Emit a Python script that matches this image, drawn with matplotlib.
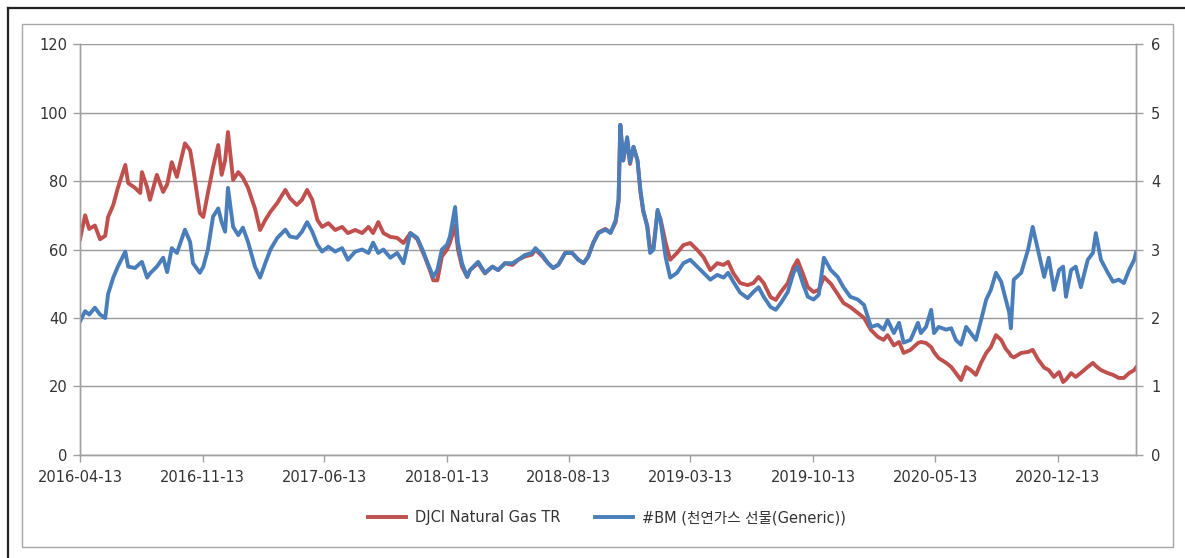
import pandas as pd
import matplotlib
matplotlib.use("Agg")
import matplotlib.pyplot as plt
import matplotlib.dates as mdates
from matplotlib.lines import Line2D
from matplotlib.patches import Rectangle

plt.rcParams["font.family"] = ["DejaVu Sans", "Noto Sans CJK KR"]

# values (roughly two-weekly samples)
dates = [
    "2016-04-13", "2016-04-22", "2016-04-29", "2016-05-09", "2016-05-18", "2016-05-27", "2016-06-01", "2016-06-10", "2016-06-18", "2016-07-01",
    "2016-07-06", "2016-07-18", "2016-07-27", "2016-07-30", "2016-08-08", "2016-08-13", "2016-08-25", "2016-09-05", "2016-09-12", "2016-09-20",
    "2016-09-29", "2016-10-13", "2016-10-22", "2016-10-27", "2016-11-08", "2016-11-14", "2016-11-22", "2016-12-01", "2016-12-10", "2016-12-16",
    "2016-12-22", "2016-12-27", "2017-01-05", "2017-01-14", "2017-01-22", "2017-01-31", "2017-02-12", "2017-02-21", "2017-03-02", "2017-03-11",
    "2017-03-23", "2017-04-06", "2017-04-14", "2017-04-26", "2017-05-05", "2017-05-14", "2017-05-23", "2017-06-01", "2017-06-09", "2017-06-20",
    "2017-07-02", "2017-07-14", "2017-07-24", "2017-08-06", "2017-08-18", "2017-08-29", "2017-09-06", "2017-09-15", "2017-09-24", "2017-10-06",
    "2017-10-18", "2017-10-29", "2017-11-10", "2017-11-22", "2017-12-01", "2017-12-06", "2017-12-15", "2017-12-20", "2017-12-27", "2018-01-04",
    "2018-01-13", "2018-01-18", "2018-01-27", "2018-02-01", "2018-02-08", "2018-02-17", "2018-02-22", "2018-03-08", "2018-03-20", "2018-04-02",
    "2018-04-12", "2018-04-24", "2018-05-07", "2018-05-17", "2018-05-29", "2018-06-10", "2018-06-16", "2018-06-28", "2018-07-08", "2018-07-17",
    "2018-07-26", "2018-08-07", "2018-08-19", "2018-08-30", "2018-09-08", "2018-09-16", "2018-09-25", "2018-10-04", "2018-10-16", "2018-10-25",
    "2018-11-03", "2018-11-08", "2018-11-11", "2018-11-16", "2018-11-23", "2018-11-28", "2018-12-04", "2018-12-11", "2018-12-16", "2018-12-21",
    "2018-12-28", "2019-01-02", "2019-01-08", "2019-01-15", "2019-01-20", "2019-01-29", "2019-02-06", "2019-02-18", "2019-03-01", "2019-03-13",
    "2019-03-25", "2019-04-05", "2019-04-17", "2019-04-29", "2019-05-10", "2019-05-18", "2019-05-27", "2019-06-08", "2019-06-21", "2019-07-01",
    "2019-07-10", "2019-07-19", "2019-07-31", "2019-08-09", "2019-08-18", "2019-08-30", "2019-09-09", "2019-09-16", "2019-09-25", "2019-10-04",
    "2019-10-14", "2019-10-23", "2019-11-01", "2019-11-13", "2019-11-25", "2019-12-05", "2019-12-17", "2019-12-30", "2020-01-10", "2020-01-22",
    "2020-02-03", "2020-02-13", "2020-02-20", "2020-03-02", "2020-03-11", "2020-03-19", "2020-03-31", "2020-04-13", "2020-04-18", "2020-04-27",
    "2020-05-06", "2020-05-11", "2020-05-19", "2020-06-01", "2020-06-10", "2020-06-18", "2020-06-27", "2020-07-06", "2020-07-14", "2020-07-23",
    "2020-08-01", "2020-08-10", "2020-08-18", "2020-08-27", "2020-09-05", "2020-09-13", "2020-09-19", "2020-09-22", "2020-09-27", "2020-10-10",
    "2020-10-22", "2020-10-30", "2020-11-08", "2020-11-19", "2020-11-27", "2020-12-06", "2020-12-15", "2020-12-22", "2020-12-27", "2021-01-05",
    "2021-01-13", "2021-01-22", "2021-02-03", "2021-02-12", "2021-02-17", "2021-02-26", "2021-03-10", "2021-03-19", "2021-03-29", "2021-04-07",
    "2021-04-16", "2021-04-25", "2021-04-28",
]

# DJCI Natural Gas TR (left axis)
djci_gas = [
    63, 70, 66, 67, 63, 64, 69.5, 73, 78, 84.7,
    79.4, 78, 76.5, 82.6, 78.2, 74.5, 81.8, 76.8, 79, 85.5,
    81.2, 91, 89, 84, 70.6, 69.5, 76.5, 84, 90.5, 81.8,
    86, 94.3, 80.3, 82.6, 81, 78, 72, 65.7, 68.6, 71,
    73.6, 77.4, 75, 73, 74.5, 77.4, 74.5, 68.6, 66.6, 67.7,
    65.7, 66.6, 64.8, 65.7, 64.8, 66.6, 64.8, 68, 64.8, 63.7,
    63.4, 61.9, 64.8, 63, 59.5, 57.5, 53.5, 51, 51, 58,
    60, 62, 67, 60, 55, 52, 54, 56, 53, 55,
    54, 56, 55.5, 57, 58, 58.5, 60, 58, 56, 54.6,
    55.5, 59, 59, 57, 56, 58, 62, 65, 66, 65,
    68, 74, 96.4, 86, 92, 85, 90, 86, 77, 71,
    67, 60, 61, 71, 69, 62, 57, 59, 61.3, 61.9,
    59.9, 57.8, 54, 56, 55.5, 56.4, 53.1, 50.2, 49.6, 50.2,
    52, 50.2, 46.1, 45.3, 47.6, 50.2, 54.9, 56.9, 53.1, 49,
    47.6, 48.2, 52, 50, 47, 44.4, 43.2, 41.5, 40, 36.5,
    34.5, 33.6, 35, 32, 33, 29.8, 30.7, 32.7, 33, 32.7,
    31.5, 30, 28.3, 26.9, 25.7, 23.9, 21.9, 25.7, 24.8, 23.4,
    26.9, 29.8, 31.5, 35, 33.6, 31, 29.8, 29, 28.5, 29.8,
    30.1, 30.7, 28, 25.5, 24.8, 22.8, 24.2, 21.3, 22, 23.9,
    22.8, 24, 25.7, 26.9, 26, 24.8, 23.9, 23.4, 22.5, 22.5,
    23.9, 24.8, 25.5,
]

# #BM natural gas generic future (right axis)
ng_future = [
    1.95, 2.10, 2.05, 2.15, 2.05, 2.00, 2.35, 2.59, 2.75, 2.97,
    2.75, 2.73, 2.80, 2.82, 2.59, 2.65, 2.75, 2.88, 2.67, 3.02,
    2.95, 3.29, 3.11, 2.80, 2.66, 2.75, 3.00, 3.48, 3.60, 3.40,
    3.26, 3.90, 3.33, 3.21, 3.32, 3.11, 2.75, 2.59, 2.80, 3.00,
    3.17, 3.29, 3.19, 3.17, 3.26, 3.40, 3.26, 3.07, 2.97, 3.04,
    2.97, 3.02, 2.85, 2.97, 3.00, 2.95, 3.10, 2.95, 3.00, 2.88,
    2.95, 2.80, 3.24, 3.17, 3.00, 2.89, 2.70, 2.60, 2.70, 3.00,
    3.07, 3.19, 3.62, 3.10, 2.80, 2.60, 2.70, 2.82, 2.66, 2.75,
    2.70, 2.80, 2.80, 2.85, 2.92, 2.95, 3.02, 2.92, 2.80, 2.73,
    2.78, 2.95, 2.95, 2.85, 2.80, 2.89, 3.10, 3.24, 3.29, 3.24,
    3.43, 3.73, 4.82, 4.30, 4.64, 4.27, 4.50, 4.30, 3.87, 3.58,
    3.33, 2.95, 3.00, 3.58, 3.43, 2.89, 2.59, 2.66, 2.80, 2.85,
    2.75, 2.66, 2.56, 2.63, 2.59, 2.66, 2.53, 2.37, 2.29, 2.38,
    2.45, 2.31, 2.16, 2.12, 2.22, 2.38, 2.66, 2.75, 2.51, 2.31,
    2.27, 2.34, 2.88, 2.70, 2.60, 2.45, 2.31, 2.27, 2.19, 1.87,
    1.90, 1.83, 1.97, 1.78, 1.93, 1.64, 1.68, 1.93, 1.78, 1.87,
    2.12, 1.78, 1.87, 1.83, 1.85, 1.68, 1.61, 1.87, 1.78, 1.68,
    1.97, 2.27, 2.41, 2.66, 2.53, 2.27, 2.08, 1.85, 2.56, 2.66,
    3.00, 3.33, 3.00, 2.60, 2.88, 2.41, 2.70, 2.75, 2.31, 2.70,
    2.75, 2.45, 2.85, 2.95, 3.24, 2.85, 2.66, 2.53, 2.56, 2.51,
    2.70, 2.85, 2.95,
]

tick_dates = [
    "2016-04-13", "2016-11-13", "2017-06-13", "2018-01-13", "2018-08-13",
    "2019-03-13", "2019-10-13", "2020-05-13", "2020-12-13",
]

left_ticks = [0, 20, 40, 60, 80, 100, 120]
right_ticks = [0, 1, 2, 3, 4, 5, 6]

red = "#C0504D"
blue = "#4A7EBB"
grid_gray = "#999999"
text_color = "#333333"

x = pd.to_datetime(dates)
assert len(x) == len(djci_gas) == len(ng_future)

fig = plt.figure(figsize=(11.85, 5.58), dpi=100)
ax = fig.add_axes([0.0675, 0.1846, 0.8911, 0.7365])
ax2 = ax.twinx()

ax.plot(x, djci_gas, color=red, lw=2.8, solid_joinstyle="round")
ax2.plot(x, ng_future, color=blue, lw=2.8, solid_joinstyle="round")

# axes limits and ticks
ax.set_xlim(x[0], x[-1])
ax.set_ylim(0, 120)
ax2.set_ylim(0, 6)
ax.set_yticks(left_ticks)
ax2.set_yticks(right_ticks)
ax.set_xticks(pd.to_datetime(tick_dates))
ax.xaxis.set_major_formatter(mdates.DateFormatter("%Y-%m-%d"))

ax.yaxis.grid(True, color=grid_gray, lw=1.0)
ax.set_axisbelow(True)

for a in (ax, ax2):
    a.spines["top"].set_visible(False)
    for side in ("left", "right", "bottom"):
        a.spines[side].set_color("#A0A0A0")
        a.spines[side].set_linewidth(1.0)
    a.tick_params(colors="#A0A0A0", labelcolor=text_color, labelsize=10.5,
                  length=5, width=1.0)
ax.tick_params(axis="x", pad=6)
ax.tick_params(axis="y", pad=4)
ax2.tick_params(axis="y", pad=6)

# legend under the plot
handles = [
    Line2D([], [], color=red, lw=2.8),
    Line2D([], [], color=blue, lw=2.8),
]
labels = ["DJCI Natural Gas TR", "#BM (천연가스 선물(Generic))"]
fig.legend(handles, labels, loc="center", bbox_to_anchor=(0.512, 0.072),
           ncol=2, frameon=False, fontsize=10.5, handlelength=2.6,
           columnspacing=2.4, handletextpad=0.6, labelcolor=text_color)

# chart frame (inner gray box) and the black page border
fig.patches.append(Rectangle((0.0186, 0.0197), 0.9713, 0.9373,
                             transform=fig.transFigure, fill=False,
                             edgecolor="#A6A6A6", lw=1.0))
fig.add_artist(Line2D([0.0068, 0.0068], [0.0, 0.9857], transform=fig.transFigure,
                      color="#222222", lw=1.6))
fig.add_artist(Line2D([0.0068, 1.0], [0.9857, 0.9857], transform=fig.transFigure,
                      color="#222222", lw=1.6))

fig.savefig("out.png", dpi=100)
